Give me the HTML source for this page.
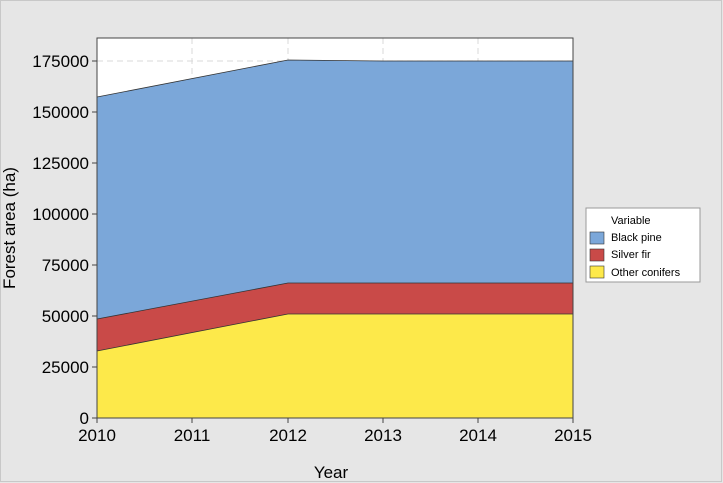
<!DOCTYPE html><html><head><style>html,body{margin:0;background:#e6e6e6;overflow:hidden;width:723px;height:483px}svg{display:block}</style></head><body>
<svg width="723" height="483" xmlns="http://www.w3.org/2000/svg" font-family="Liberation Sans, DejaVu Sans, sans-serif">
<rect x="0.5" y="0.5" width="721" height="481" fill="#e6e6e6" stroke="#c8c8c8"/>
<rect x="97" y="38" width="476" height="380" fill="#fff"/>
<g stroke="#d8d8d8" stroke-dasharray="6,4">
<line x1="192" y1="38" x2="192" y2="418"/><line x1="288" y1="38" x2="288" y2="418"/><line x1="383" y1="38" x2="383" y2="418"/><line x1="478" y1="38" x2="478" y2="418"/>
<line x1="97" y1="61" x2="573" y2="61"/>
</g>
<polygon points="97,97 288,60 383,61 573,61 573,418 97,418" fill="#7ba7d9" stroke="#333" stroke-width="0.8"/>
<polygon points="97,319 288,283 383,283 573,283 573,418 97,418" fill="#c94a48" stroke="#333" stroke-width="0.8"/>
<polygon points="97,351 288,314 383,314 573,314 573,418 97,418" fill="#fde94a" stroke="#333" stroke-width="0.8"/>
<rect x="97" y="38" width="476" height="380" fill="none" stroke="#444"/>
<g stroke="#444">
<line x1="92" y1="418" x2="97" y2="418"/><line x1="92" y1="367" x2="97" y2="367"/><line x1="92" y1="316" x2="97" y2="316"/><line x1="92" y1="265" x2="97" y2="265"/><line x1="92" y1="214" x2="97" y2="214"/><line x1="92" y1="163" x2="97" y2="163"/><line x1="92" y1="112" x2="97" y2="112"/><line x1="92" y1="61" x2="97" y2="61"/>
<line x1="97" y1="418" x2="97" y2="423"/><line x1="192" y1="418" x2="192" y2="423"/><line x1="288" y1="418" x2="288" y2="423"/><line x1="383" y1="418" x2="383" y2="423"/><line x1="478" y1="418" x2="478" y2="423"/><line x1="573" y1="418" x2="573" y2="423"/>
</g>
<g font-size="17" text-anchor="end" fill="#000">
<text x="89" y="424">0</text><text x="89" y="373">25000</text><text x="89" y="322">50000</text><text x="89" y="271">75000</text><text x="89" y="220">100000</text><text x="89" y="169">125000</text><text x="89" y="118">150000</text><text x="89" y="67">175000</text>
</g>
<g font-size="17" text-anchor="middle">
<text x="97" y="441">2010</text><text x="192" y="441">2011</text><text x="288" y="441">2012</text><text x="383" y="441">2013</text><text x="478" y="441">2014</text><text x="573" y="441">2015</text>
<text x="331" y="478">Year</text>
<text transform="translate(15,228) rotate(-90)">Forest area (ha)</text>
</g>
<rect x="586" y="208" width="114" height="74" fill="#fff" stroke="#999"/>
<g font-size="11">
<text x="611" y="224">Variable</text>
<rect x="590" y="232" width="14" height="12" fill="#7ba7d9" stroke="#333" stroke-width="0.6"/><text x="611" y="241">Black pine</text>
<rect x="590" y="249" width="14" height="12" fill="#c94a48" stroke="#333" stroke-width="0.6"/><text x="611" y="258">Silver fir</text>
<rect x="590" y="266" width="14" height="12" fill="#fde94a" stroke="#333" stroke-width="0.6"/><text x="611" y="276">Other conifers</text>
</g>
</svg></body></html>
